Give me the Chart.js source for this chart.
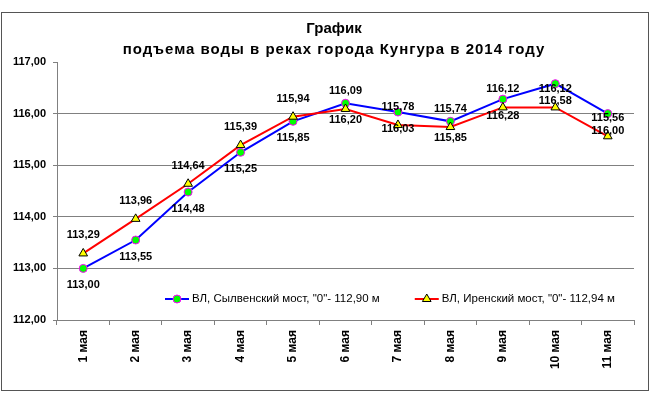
<!DOCTYPE html>
<html>
<head>
<meta charset="utf-8">
<script src="https://cdn.jsdelivr.net/npm/chart.js@4.4.1/dist/chart.umd.min.js"></script>
<style>
  html, body { margin: 0; padding: 0; background: #fff; }
</style>
</head>
<body>
<canvas id="chart" width="650" height="397"></canvas>
<script>
// --- Data ---
const categories = ['1 мая', '2 мая', '3 мая', '4 мая', '5 мая', '6 мая',
  '7 мая', '8 мая', '9 мая', '10 мая', '11 мая'];
const sylvaLevels = [113.00, 113.55, 114.48, 115.25, 115.85, 116.20,
  116.03, 115.85, 116.28, 116.58, 116.00];
const irenLevels = [113.29, 113.96, 114.64, 115.39, 115.94, 116.09,
  115.78, 115.74, 116.12, 116.12, 115.56];
const seriesNames = ['ВЛ, Сылвенский мост, "0"- 112,90 м', 'ВЛ, Иренский мост, "0"- 112,94 м'];
const titleText = 'График';
const subtitleText = 'подъема воды в реках города Кунгура в 2014 году';
const yMin = 112, yMax = 117, yStep = 1;

const FONT = "Arial, 'Liberation Sans', sans-serif";
Chart.defaults.font.family = FONT;

function fmt(v) {
  return v.toFixed(2).replace('.', ',');
}

// --- Outer frame + wider tracking on the second title line ---
const frame = {
  id: 'frame',
  beforeDraw(chart) {
    const ctx = chart.ctx;
    chart.boxes.forEach((box) => {
      if (box.options && box.options.text === subtitleText && !box._spaced) {
        const orig = box.draw;
        box.draw = function (area) {
          ctx.save();
          ctx.letterSpacing = '1px';
          orig.call(this, area);
          ctx.restore();
        };
        box._spaced = true;
      }
    });
    ctx.save();
    ctx.fillStyle = '#fff';
    ctx.fillRect(0, 0, chart.width, chart.height);
    ctx.strokeStyle = '#555';
    ctx.lineWidth = 1;
    ctx.strokeRect(1.5, 12.5, chart.width - 3, chart.height - 19);
    ctx.restore();
  },
};

// --- Value labels above / below points ---
const valueLabels = {
  id: 'valueLabels',
  afterDatasetsDraw(chart) {
    const ctx = chart.ctx;
    ctx.save();
    ctx.font = 'bold 11px ' + FONT;
    ctx.fillStyle = '#000';
    ctx.textAlign = 'center';
    ctx.textBaseline = 'middle';
    chart.data.datasets.forEach((ds, i) => {
      chart.getDatasetMeta(i).data.forEach((pt, j) => {
        ctx.fillText(fmt(ds.data[j]), pt.x, pt.y + ds.labelShift);
      });
    });
    ctx.restore();
  },
};

// --- Legend inside the plot (line + marker) ---
const innerLegend = {
  id: 'innerLegend',
  afterDatasetsDraw(chart) {
    const ctx = chart.ctx;
    const area = chart.chartArea;
    let x = area.left + 108;
    const y = area.bottom - 21;
    ctx.save();
    ctx.font = '11.5px ' + FONT;
    ctx.textBaseline = 'middle';
    ctx.textAlign = 'left';
    chart.data.datasets.forEach((ds) => {
      ctx.strokeStyle = ds.borderColor;
      ctx.lineWidth = ds.borderWidth;
      ctx.beginPath();
      ctx.moveTo(x, y);
      ctx.lineTo(x + 24, y);
      ctx.stroke();
      ctx.fillStyle = ds.pointBackgroundColor;
      ctx.strokeStyle = ds.pointBorderColor;
      ctx.lineWidth = ds.pointBorderWidth;
      Chart.helpers.drawPoint(ctx, {
        pointStyle: ds.pointStyle, radius: ds.pointRadius, rotation: 0, borderWidth: ds.pointBorderWidth,
      }, x + 12, y);
      ctx.fillStyle = '#000';
      ctx.fillText(ds.label, x + 27, y);
      x += 27 + ctx.measureText(ds.label).width + 35;
    });
    ctx.restore();
  },
};

new Chart(document.getElementById('chart'), {
  type: 'line',
  data: {
    labels: categories,
    datasets: [
      {
        label: seriesNames[0],
        data: sylvaLevels,
        borderColor: '#0000ff',
        borderWidth: 2,
        pointStyle: 'circle',
        pointRadius: 4,
        pointBackgroundColor: '#00ff00',
        pointBorderColor: '#ff00ff',
        pointBorderWidth: 1,
        tension: 0,
        order: 1,
        labelShift: 17,
      },
      {
        label: seriesNames[1],
        data: irenLevels,
        borderColor: '#ff0000',
        borderWidth: 2,
        pointStyle: 'triangle',
        pointRadius: 5,
        pointBackgroundColor: '#ffff00',
        pointBorderColor: '#000000',
        pointBorderWidth: 1,
        tension: 0,
        order: 0,
        labelShift: -18,
      },
    ],
  },
  options: {
    responsive: false,
    animation: false,
    // negative right padding + blank right axis keeps the title centred like the original
    layout: { padding: { left: 2, right: -16, top: 0, bottom: 15 } },
    plugins: {
      legend: { display: false },
      tooltip: { enabled: false },
      title: {
        display: true,
        text: titleText,
        color: '#000',
        font: { size: 15, weight: 'bold', lineHeight: 1.4 },
        padding: { top: 18, bottom: 0 },
      },
      subtitle: {
        display: true,
        text: subtitleText,
        color: '#000',
        font: { size: 15, weight: 'bold', lineHeight: 1.4 },
        padding: { top: 0, bottom: 2 },
      },
    },
    scales: {
      x: {
        offset: true,
        grid: { offset: true, drawOnChartArea: false, tickLength: 5, color: '#808080' },
        border: { color: '#808080' },
        ticks: {
          autoSkip: false, minRotation: 90, maxRotation: 90, padding: 5,
          color: '#000', font: { size: 12, weight: 'bold' },
        },
        afterFit: (s) => { s.height = 62; },
      },
      y: {
        min: yMin,
        max: yMax,
        ticks: {
          stepSize: yStep, padding: 7, color: '#000',
          font: { size: 11, weight: 'bold' },
          callback: (v) => fmt(v),
        },
        grid: {
          color: (c) => (c.tick && c.tick.value === yMax ? 'rgba(0,0,0,0)' : '#808080'),
          tickColor: '#808080',
          tickLength: 4,
        },
        border: { color: '#808080' },
        afterFit: (s) => { s.width = 55; },
      },
      yRight: {
        position: 'right',
        min: yMin,
        max: yMax,
        grid: { display: false },
        border: { display: false },
        ticks: { display: false },
        afterFit: (s) => { s.width = 32; },
      },
    },
  },
  plugins: [frame, valueLabels, innerLegend],
});
</script>
</body>
</html>
